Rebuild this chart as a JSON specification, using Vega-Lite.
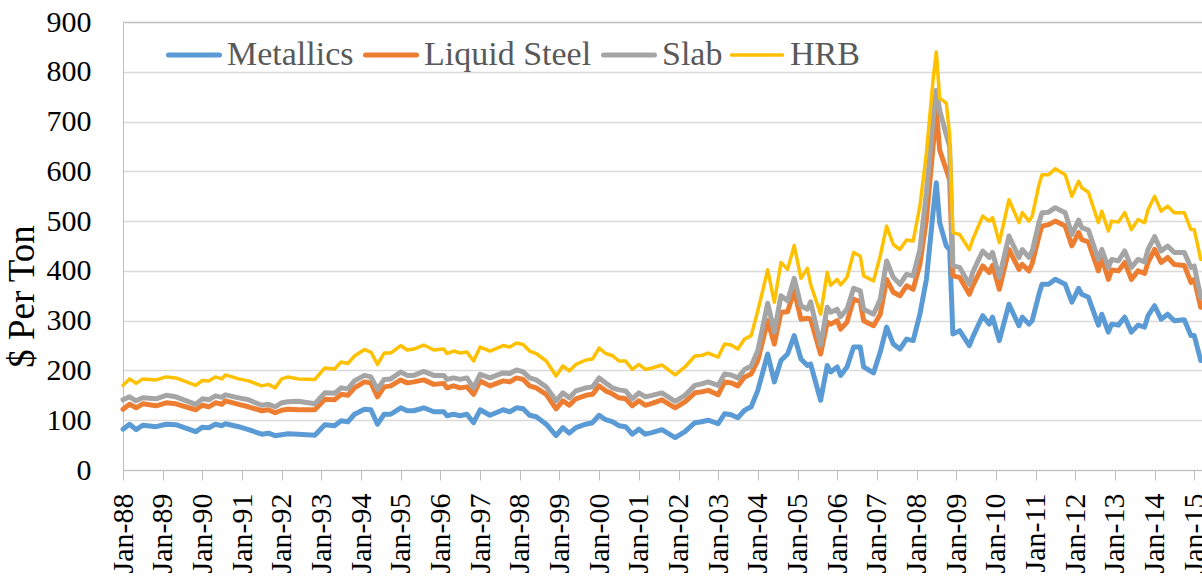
{
  "$schema": "https://vega.github.io/schema/vega-lite/v6.json",
  "width": 1079,
  "height": 448,
  "autosize": {"type": "none"},
  "padding": {"left": 123, "top": 22, "right": 0, "bottom": 112},
  "background": "white",
  "config": {"view": {"stroke": null}, "font": "Liberation Serif"},
  "data": {"values": [
    {"d":"1988-01-01","Metallics":82,"Liquid Steel":122,"Slab":141,"HRB":170},
    {"d":"1988-03-01","Metallics":92,"Liquid Steel":132,"Slab":147,"HRB":183},
    {"d":"1988-05-01","Metallics":81,"Liquid Steel":125,"Slab":139,"HRB":174},
    {"d":"1988-07-01","Metallics":90,"Liquid Steel":133,"Slab":145,"HRB":183},
    {"d":"1988-11-01","Metallics":87,"Liquid Steel":129,"Slab":143,"HRB":181},
    {"d":"1989-02-01","Metallics":92,"Liquid Steel":135,"Slab":150,"HRB":187},
    {"d":"1989-05-01","Metallics":91,"Liquid Steel":133,"Slab":147,"HRB":185},
    {"d":"1989-11-01","Metallics":77,"Liquid Steel":121,"Slab":132,"HRB":170},
    {"d":"1990-01-01","Metallics":86,"Liquid Steel":130,"Slab":143,"HRB":180},
    {"d":"1990-03-01","Metallics":85,"Liquid Steel":127,"Slab":141,"HRB":179},
    {"d":"1990-05-01","Metallics":92,"Liquid Steel":135,"Slab":149,"HRB":187},
    {"d":"1990-07-01","Metallics":89,"Liquid Steel":132,"Slab":146,"HRB":183},
    {"d":"1990-08-01","Metallics":93,"Liquid Steel":139,"Slab":151,"HRB":191},
    {"d":"1990-12-01","Metallics":87,"Liquid Steel":132,"Slab":145,"HRB":183},
    {"d":"1991-03-01","Metallics":81,"Liquid Steel":127,"Slab":141,"HRB":179},
    {"d":"1991-07-01","Metallics":72,"Liquid Steel":119,"Slab":130,"HRB":169},
    {"d":"1991-09-01","Metallics":74,"Liquid Steel":121,"Slab":132,"HRB":172},
    {"d":"1991-11-01","Metallics":69,"Liquid Steel":115,"Slab":127,"HRB":165},
    {"d":"1992-01-01","Metallics":71,"Liquid Steel":120,"Slab":135,"HRB":183},
    {"d":"1992-03-01","Metallics":73,"Liquid Steel":122,"Slab":137,"HRB":187},
    {"d":"1992-06-01","Metallics":72,"Liquid Steel":121,"Slab":138,"HRB":183},
    {"d":"1992-11-01","Metallics":70,"Liquid Steel":121,"Slab":133,"HRB":182},
    {"d":"1993-02-01","Metallics":91,"Liquid Steel":142,"Slab":155,"HRB":205},
    {"d":"1993-05-01","Metallics":89,"Liquid Steel":141,"Slab":154,"HRB":203},
    {"d":"1993-07-01","Metallics":99,"Liquid Steel":152,"Slab":165,"HRB":217},
    {"d":"1993-09-01","Metallics":97,"Liquid Steel":150,"Slab":163,"HRB":214},
    {"d":"1993-11-01","Metallics":112,"Liquid Steel":165,"Slab":179,"HRB":229},
    {"d":"1994-02-01","Metallics":122,"Liquid Steel":177,"Slab":190,"HRB":242},
    {"d":"1994-04-01","Metallics":121,"Liquid Steel":175,"Slab":187,"HRB":237},
    {"d":"1994-06-01","Metallics":92,"Liquid Steel":147,"Slab":162,"HRB":212},
    {"d":"1994-08-01","Metallics":112,"Liquid Steel":167,"Slab":182,"HRB":235},
    {"d":"1994-10-01","Metallics":112,"Liquid Steel":169,"Slab":183,"HRB":235},
    {"d":"1995-01-01","Metallics":125,"Liquid Steel":181,"Slab":197,"HRB":250},
    {"d":"1995-03-01","Metallics":119,"Liquid Steel":175,"Slab":190,"HRB":241},
    {"d":"1995-05-01","Metallics":119,"Liquid Steel":177,"Slab":190,"HRB":243},
    {"d":"1995-08-01","Metallics":125,"Liquid Steel":181,"Slab":198,"HRB":251},
    {"d":"1995-11-01","Metallics":117,"Liquid Steel":172,"Slab":190,"HRB":241},
    {"d":"1996-02-01","Metallics":117,"Liquid Steel":174,"Slab":190,"HRB":243},
    {"d":"1996-03-01","Metallics":109,"Liquid Steel":165,"Slab":182,"HRB":234},
    {"d":"1996-05-01","Metallics":112,"Liquid Steel":169,"Slab":185,"HRB":239},
    {"d":"1996-07-01","Metallics":109,"Liquid Steel":165,"Slab":182,"HRB":235},
    {"d":"1996-09-01","Metallics":112,"Liquid Steel":167,"Slab":185,"HRB":237},
    {"d":"1996-11-01","Metallics":95,"Liquid Steel":152,"Slab":165,"HRB":219},
    {"d":"1997-01-01","Metallics":121,"Liquid Steel":179,"Slab":192,"HRB":247},
    {"d":"1997-04-01","Metallics":110,"Liquid Steel":169,"Slab":185,"HRB":239},
    {"d":"1997-08-01","Metallics":121,"Liquid Steel":179,"Slab":195,"HRB":250},
    {"d":"1997-10-01","Metallics":117,"Liquid Steel":177,"Slab":194,"HRB":247},
    {"d":"1997-12-01","Metallics":125,"Liquid Steel":185,"Slab":201,"HRB":255},
    {"d":"1998-02-01","Metallics":123,"Liquid Steel":182,"Slab":197,"HRB":252},
    {"d":"1998-04-01","Metallics":110,"Liquid Steel":169,"Slab":185,"HRB":239},
    {"d":"1998-06-01","Metallics":107,"Liquid Steel":165,"Slab":181,"HRB":234},
    {"d":"1998-09-01","Metallics":92,"Liquid Steel":152,"Slab":167,"HRB":219},
    {"d":"1998-12-01","Metallics":69,"Liquid Steel":123,"Slab":139,"HRB":189},
    {"d":"1999-02-01","Metallics":85,"Liquid Steel":139,"Slab":155,"HRB":209},
    {"d":"1999-04-01","Metallics":74,"Liquid Steel":130,"Slab":145,"HRB":199},
    {"d":"1999-06-01","Metallics":85,"Liquid Steel":143,"Slab":159,"HRB":212},
    {"d":"1999-09-01","Metallics":92,"Liquid Steel":150,"Slab":165,"HRB":221},
    {"d":"1999-11-01","Metallics":95,"Liquid Steel":152,"Slab":167,"HRB":223},
    {"d":"2000-01-01","Metallics":110,"Liquid Steel":169,"Slab":185,"HRB":245},
    {"d":"2000-03-01","Metallics":101,"Liquid Steel":159,"Slab":175,"HRB":234},
    {"d":"2000-05-01","Metallics":97,"Liquid Steel":153,"Slab":165,"HRB":230},
    {"d":"2000-07-01","Metallics":89,"Liquid Steel":145,"Slab":161,"HRB":219},
    {"d":"2000-09-01","Metallics":87,"Liquid Steel":143,"Slab":159,"HRB":219},
    {"d":"2000-11-01","Metallics":72,"Liquid Steel":129,"Slab":143,"HRB":202},
    {"d":"2001-01-01","Metallics":82,"Liquid Steel":139,"Slab":155,"HRB":212},
    {"d":"2001-03-01","Metallics":72,"Liquid Steel":130,"Slab":147,"HRB":202},
    {"d":"2001-05-01","Metallics":75,"Liquid Steel":134,"Slab":150,"HRB":205},
    {"d":"2001-08-01","Metallics":81,"Liquid Steel":141,"Slab":155,"HRB":211},
    {"d":"2001-12-01","Metallics":65,"Liquid Steel":125,"Slab":138,"HRB":191},
    {"d":"2002-03-01","Metallics":77,"Liquid Steel":137,"Slab":150,"HRB":207},
    {"d":"2002-06-01","Metallics":95,"Liquid Steel":155,"Slab":170,"HRB":229},
    {"d":"2002-08-01","Metallics":97,"Liquid Steel":157,"Slab":173,"HRB":230},
    {"d":"2002-10-01","Metallics":100,"Liquid Steel":160,"Slab":177,"HRB":235},
    {"d":"2003-01-01","Metallics":93,"Liquid Steel":151,"Slab":170,"HRB":227},
    {"d":"2003-03-01","Metallics":113,"Liquid Steel":177,"Slab":193,"HRB":253},
    {"d":"2003-05-01","Metallics":111,"Liquid Steel":175,"Slab":191,"HRB":251},
    {"d":"2003-07-01","Metallics":105,"Liquid Steel":169,"Slab":185,"HRB":243},
    {"d":"2003-09-01","Metallics":120,"Liquid Steel":187,"Slab":202,"HRB":263},
    {"d":"2003-11-01","Metallics":127,"Liquid Steel":193,"Slab":209,"HRB":270},
    {"d":"2004-01-01","Metallics":160,"Liquid Steel":220,"Slab":240,"HRB":320},
    {"d":"2004-04-01","Metallics":233,"Liquid Steel":300,"Slab":335,"HRB":402},
    {"d":"2004-06-01","Metallics":177,"Liquid Steel":253,"Slab":277,"HRB":337},
    {"d":"2004-08-01","Metallics":220,"Liquid Steel":317,"Slab":350,"HRB":417},
    {"d":"2004-10-01","Metallics":233,"Liquid Steel":318,"Slab":340,"HRB":403},
    {"d":"2004-12-01","Metallics":270,"Liquid Steel":360,"Slab":385,"HRB":451},
    {"d":"2005-02-01","Metallics":223,"Liquid Steel":303,"Slab":330,"HRB":385},
    {"d":"2005-04-01","Metallics":210,"Liquid Steel":305,"Slab":323,"HRB":405},
    {"d":"2005-05-01","Metallics":213,"Liquid Steel":303,"Slab":338,"HRB":373},
    {"d":"2005-08-01","Metallics":140,"Liquid Steel":233,"Slab":251,"HRB":313},
    {"d":"2005-10-01","Metallics":210,"Liquid Steel":297,"Slab":327,"HRB":397},
    {"d":"2005-11-01","Metallics":197,"Liquid Steel":293,"Slab":317,"HRB":371},
    {"d":"2006-01-01","Metallics":207,"Liquid Steel":300,"Slab":323,"HRB":383},
    {"d":"2006-02-01","Metallics":190,"Liquid Steel":283,"Slab":308,"HRB":372},
    {"d":"2006-04-01","Metallics":207,"Liquid Steel":297,"Slab":323,"HRB":387},
    {"d":"2006-06-01","Metallics":247,"Liquid Steel":343,"Slab":365,"HRB":437},
    {"d":"2006-08-01","Metallics":247,"Liquid Steel":338,"Slab":360,"HRB":430},
    {"d":"2006-09-01","Metallics":207,"Liquid Steel":300,"Slab":323,"HRB":390},
    {"d":"2006-12-01","Metallics":195,"Liquid Steel":290,"Slab":313,"HRB":380},
    {"d":"2007-02-01","Metallics":237,"Liquid Steel":313,"Slab":343,"HRB":430},
    {"d":"2007-04-01","Metallics":287,"Liquid Steel":383,"Slab":420,"HRB":490},
    {"d":"2007-06-01","Metallics":253,"Liquid Steel":357,"Slab":387,"HRB":453},
    {"d":"2007-08-01","Metallics":243,"Liquid Steel":350,"Slab":373,"HRB":443},
    {"d":"2007-10-01","Metallics":263,"Liquid Steel":370,"Slab":393,"HRB":462},
    {"d":"2007-12-01","Metallics":260,"Liquid Steel":363,"Slab":390,"HRB":460},
    {"d":"2008-02-01","Metallics":313,"Liquid Steel":413,"Slab":443,"HRB":530},
    {"d":"2008-04-01","Metallics":383,"Liquid Steel":503,"Slab":557,"HRB":637},
    {"d":"2008-06-01","Metallics":517,"Liquid Steel":650,"Slab":703,"HRB":783},
    {"d":"2008-07-01","Metallics":577,"Liquid Steel":723,"Slab":763,"HRB":840},
    {"d":"2008-08-01","Metallics":497,"Liquid Steel":643,"Slab":723,"HRB":747},
    {"d":"2008-10-01","Metallics":450,"Liquid Steel":603,"Slab":673,"HRB":737},
    {"d":"2008-11-01","Metallics":443,"Liquid Steel":583,"Slab":650,"HRB":673},
    {"d":"2008-12-01","Metallics":273,"Liquid Steel":390,"Slab":410,"HRB":477},
    {"d":"2009-02-01","Metallics":280,"Liquid Steel":387,"Slab":407,"HRB":473},
    {"d":"2009-05-01","Metallics":250,"Liquid Steel":353,"Slab":373,"HRB":443},
    {"d":"2009-06-01","Metallics":267,"Liquid Steel":370,"Slab":397,"HRB":463},
    {"d":"2009-09-01","Metallics":310,"Liquid Steel":410,"Slab":440,"HRB":510},
    {"d":"2009-11-01","Metallics":293,"Liquid Steel":397,"Slab":427,"HRB":500},
    {"d":"2009-12-01","Metallics":307,"Liquid Steel":411,"Slab":437,"HRB":507},
    {"d":"2010-02-01","Metallics":260,"Liquid Steel":363,"Slab":387,"HRB":457},
    {"d":"2010-05-01","Metallics":333,"Liquid Steel":443,"Slab":470,"HRB":543},
    {"d":"2010-08-01","Metallics":290,"Liquid Steel":403,"Slab":427,"HRB":497},
    {"d":"2010-09-01","Metallics":307,"Liquid Steel":413,"Slab":443,"HRB":517},
    {"d":"2010-11-01","Metallics":293,"Liquid Steel":400,"Slab":427,"HRB":500},
    {"d":"2010-12-01","Metallics":300,"Liquid Steel":415,"Slab":440,"HRB":510},
    {"d":"2011-02-01","Metallics":353,"Liquid Steel":470,"Slab":497,"HRB":573},
    {"d":"2011-03-01","Metallics":373,"Liquid Steel":490,"Slab":517,"HRB":593},
    {"d":"2011-05-01","Metallics":373,"Liquid Steel":493,"Slab":518,"HRB":593},
    {"d":"2011-07-01","Metallics":383,"Liquid Steel":500,"Slab":527,"HRB":605},
    {"d":"2011-10-01","Metallics":373,"Liquid Steel":490,"Slab":517,"HRB":593},
    {"d":"2011-12-01","Metallics":337,"Liquid Steel":450,"Slab":473,"HRB":550},
    {"d":"2012-02-01","Metallics":365,"Liquid Steel":477,"Slab":502,"HRB":580},
    {"d":"2012-03-01","Metallics":353,"Liquid Steel":463,"Slab":487,"HRB":567},
    {"d":"2012-05-01","Metallics":347,"Liquid Steel":458,"Slab":482,"HRB":558},
    {"d":"2012-08-01","Metallics":291,"Liquid Steel":400,"Slab":423,"HRB":497},
    {"d":"2012-09-01","Metallics":313,"Liquid Steel":427,"Slab":443,"HRB":520},
    {"d":"2012-11-01","Metallics":277,"Liquid Steel":383,"Slab":407,"HRB":480},
    {"d":"2012-12-01","Metallics":293,"Liquid Steel":402,"Slab":423,"HRB":500},
    {"d":"2013-02-01","Metallics":291,"Liquid Steel":400,"Slab":420,"HRB":498},
    {"d":"2013-04-01","Metallics":307,"Liquid Steel":417,"Slab":440,"HRB":517},
    {"d":"2013-06-01","Metallics":277,"Liquid Steel":383,"Slab":407,"HRB":483},
    {"d":"2013-08-01","Metallics":291,"Liquid Steel":400,"Slab":423,"HRB":503},
    {"d":"2013-10-01","Metallics":287,"Liquid Steel":395,"Slab":418,"HRB":497},
    {"d":"2013-11-01","Metallics":310,"Liquid Steel":417,"Slab":443,"HRB":523},
    {"d":"2014-01-01","Metallics":330,"Liquid Steel":443,"Slab":469,"HRB":550},
    {"d":"2014-03-01","Metallics":303,"Liquid Steel":417,"Slab":440,"HRB":520},
    {"d":"2014-05-01","Metallics":313,"Liquid Steel":427,"Slab":450,"HRB":530},
    {"d":"2014-07-01","Metallics":300,"Liquid Steel":413,"Slab":437,"HRB":517},
    {"d":"2014-10-01","Metallics":302,"Liquid Steel":411,"Slab":437,"HRB":517},
    {"d":"2014-12-01","Metallics":270,"Liquid Steel":377,"Slab":407,"HRB":483},
    {"d":"2015-01-01","Metallics":270,"Liquid Steel":383,"Slab":410,"HRB":483},
    {"d":"2015-03-01","Metallics":220,"Liquid Steel":327,"Slab":347,"HRB":423}
  ]},
  "transform": [{"fold": ["Metallics", "Liquid Steel", "Slab", "HRB"], "as": ["series", "value"]}],
  "mark": {"type": "line", "strokeJoin": "round", "strokeCap": "round"},
  "encoding": {
    "x": {
      "field": "d", "type": "temporal",
      "scale": {"type": "utc", "domain": [{"year": 1988, "month": 1, "date": 1, "utc": true}, {"year": 2015, "month": 3, "date": 13, "utc": true}]},
      "axis": {
        "title": null, "format": "%b-%y", "tickCount": {"interval": "year", "step": 1},
        "labelAngle": -90, "labelFont": "Liberation Serif", "labelFontSize": 30, "labelColor": "#000000",
        "labelPadding": 13, "tickSize": 10, "tickColor": "#bfbfbf", "domainColor": "#bfbfbf",
        "grid": false, "labelFlush": false, "labelOverlap": false, "labelBound": false
      }
    },
    "y": {
      "field": "value", "type": "quantitative",
      "scale": {"domain": [0, 900], "nice": false},
      "axis": {
        "values": [0, 100, 200, 300, 400, 500, 600, 700, 800, 900],
        "title": "$ Per Ton", "titleFont": "Liberation Serif", "titleFontSize": 37, "titleFontWeight": "normal",
        "titleColor": "#000000", "titleX": -90, "titleY": 274, "titleBaseline": "alphabetic", "titleAlign": "center", "titleAngle": -90,
        "labelFont": "Liberation Serif", "labelFontSize": 30, "labelColor": "#000000", "labelPadding": 32,
        "ticks": false, "domainColor": "#bfbfbf",
        "gridColor": {"condition": {"test": "datum.value === 900", "value": "#bfbfbf"}, "value": "#d9d9d9"},
        "gridWidth": 1.3
      }
    },
    "color": {
      "field": "series", "type": "nominal",
      "scale": {"domain": ["Metallics", "Liquid Steel", "Slab", "HRB"], "range": ["#5b9bd5", "#ed7d31", "#a5a5a5", "#ffc000"]},
      "legend": {
        "orient": "none", "legendX": 54, "legendY": 16, "direction": "horizontal", "title": null,
        "symbolType": "stroke", "symbolSize": 2601, "symbolStrokeWidth": 5,
        "labelFont": "Liberation Serif", "labelFontSize": 34, "labelColor": "#595959", "labelLimit": 0,
        "labelOffset": 16, "columnPadding": 1, "padding": 0, "rowPadding": 0,
        "encode": {"symbols": {"update": {"strokeCap": {"value": "round"}, "strokeWidth": {"signal": "datum.value === 'HRB' ? 3.5 : 5"}}}}
      }
    },
    "strokeWidth": {"condition": {"test": "datum.series === 'HRB'", "value": 3.5}, "value": 5}
  }
}
